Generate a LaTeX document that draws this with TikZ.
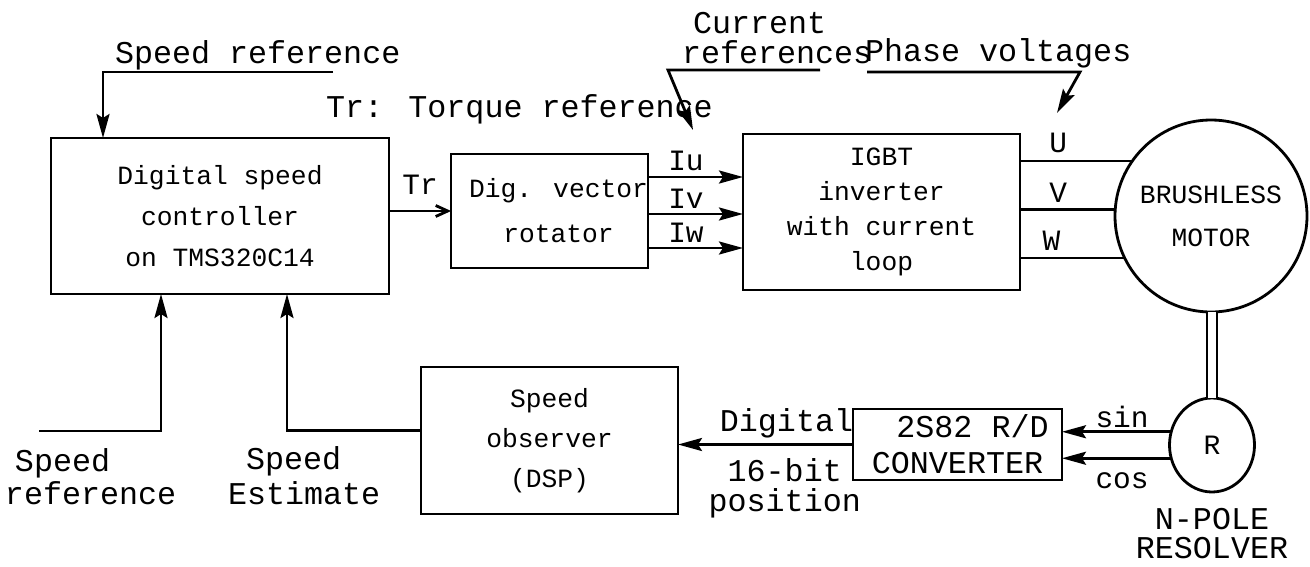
\documentclass[tikz,border=0pt]{standalone}
\usepackage{fontspec}
\setmainfont{Liberation Mono}
\usetikzlibrary{arrows.meta, positioning, shapes.geometric}

\newcommand{\lblf}[1]{\fontsize{31.7}{#1}\selectfont}
\newcommand{\boxf}[1]{\fontsize{26.3}{#1}\selectfont}
\newcommand{\sigf}{\fontsize{29.5}{30}\selectfont}

\begin{document}
\begin{tikzpicture}[
        x=1pt, y=-1pt,
        % Styles
        block/.style={
            rectangle, draw, line width=2.8pt,
            inner sep=0pt, outer sep=0pt, align=center
        },
        lbl/.style={inner sep=0pt, outer sep=0pt, font=\lblf{32}},
        sig/.style={inner sep=0pt, outer sep=0pt, font=\sigf},
        wire/.style={line width=2.8pt},
        line/.style={
            wire, -{Stealth[length=24pt, width=13pt, inset=4pt]}
        },
        barb/.style={wire, -{Straight Barb[length=12pt, width=11pt]}}
    ]
    \useasboundingbox (0,0) rectangle (1310,566);

    % Blocks
    \node[block, minimum width=338pt, minimum height=156pt, font=\boxf{41}] (ctrl) at (220,216) {Digital speed\\controller\\on TMS320C14};
    \node[block, minimum width=193pt, minimum height=114pt, font=\boxf{45}] (rot) at (549.5,211) {\hspace*{18pt}Dig. vector\\\hspace*{18pt}rotator};
    \node[block, minimum width=277pt, minimum height=156pt, font=\boxf{35}] (inv) at (881.5,212) {IGBT\\inverter\\with current\\loop};
    \node[block, minimum width=257pt, minimum height=147pt, font=\boxf{40}] (obs) at (549.5,440.5) {Speed\\observer\\(DSP)};
    \node[block, minimum width=209pt, minimum height=71pt, font=\lblf{36}] (conv) at (957.5,444.5) {\hspace*{30pt}2S82 R/D\\CONVERTER};

    % Machines
    \node[circle, draw, line width=2.8pt, minimum size=192pt, inner sep=0pt, outer sep=0pt, align=center, font=\boxf{43}] (motor) at (1211,216) {BRUSHLESS\\MOTOR};
    \node[ellipse, draw, line width=2.8pt, minimum width=85pt, minimum height=94pt, inner sep=0pt, outer sep=0pt, font=\fontsize{28}{28}\selectfont] (res) at (1212,445) {R};
    \node[lbl, below=16pt of res, align=center, font=\lblf{29}] (reslbl) {N-POLE\\RESOLVER};

    % Free labels
    \node[lbl, anchor=base west] (spdlbl) at (115,63) {Speed reference};
    \node[lbl, anchor=base west] (trlbl) at (326,117) {Tr: Torque reference};
    \node[lbl, anchor=north west, align=left, font=\lblf{30}] (curlbl) at (682,12) {\hspace*{11pt}Current\\references};
    \node[lbl, anchor=base west] (phlbl) at (865,61) {Phase voltages};
    \node[lbl, anchor=north west, align=left, font=\lblf{33}] (reflbl) at (5,449) {\hspace*{10pt}Speed\\reference};
    \node[lbl, anchor=north west, align=left, font=\lblf{35}] (estlbl) at (228,447) {\hspace*{18pt}Speed\\Estimate};

    % Free ends
    \coordinate (spdin) at (333,72);
    \coordinate (spdref) at (39,431);
    \coordinate (curin) at (820,70);
    \coordinate (curtip) at (693,130);
    \coordinate (phin) at (867,72);
    \coordinate (phtip) at (1057,113);

    % Speed loop
    \draw[line] (spdin) -| ([xshift=52pt]ctrl.north west);
    \draw[line] (spdref) -| ([xshift=110pt]ctrl.south west);
    \draw[line] ([yshift=10pt]obs.west) -| ([xshift=236pt]ctrl.south west);

    % Forward path
    \draw[barb] (rot.west -| ctrl.east) -- node[sig, above=17pt] (ltr) {Tr} (rot.west);
    \foreach \dy/\nm in {34/Iu, -3/Iv, -37/Iw}
        \draw[line] ([yshift=\dy pt]rot.east) -- node[sig, pos=0.4, above=6pt] (l\nm) {\nm} ([yshift=\dy pt]rot.east -| inv.west);
    \draw[wire] (motor.145 -| inv.east) -- node[sig, pos=0.34, above=8pt] (lU) {U} (motor.145);
    \draw[wire] (motor.176 -| inv.east) -- node[sig, pos=0.4, above=7pt] (lV) {V} (motor.176);
    \draw[wire] (motor.206 -| inv.east) -- node[sig, pos=0.3, above=8pt] (lW) {W} (motor.206);

    % Pointers
    \draw[line] (curin) -- ++(-152,0) -- (curtip);
    \draw[line] (phin) -- ++(213,0) -- (phtip);

    % Shaft and feedback
    \draw[line width=2.4pt, double, double distance=8pt] (res.north) -- (res.north |- motor.south);
    \draw[line] (res.162) -- node[sig, pos=0.45, above=4pt] (lsin) {sin} (res.162 -| conv.east);
    \draw[line] (res.198) -- node[sig, pos=0.45, below=14pt] (lcos) {cos} (res.198 -| conv.east);
    \draw[line] (conv.west) -- node[lbl, pos=0.38, above=6pt] (ldig) {Digital} node[lbl, pos=0.39, below=14pt, align=center, font=\lblf{30}] (lpos) {16-bit\\position} (conv.west -| obs.east);

\end{tikzpicture}
\end{document}
